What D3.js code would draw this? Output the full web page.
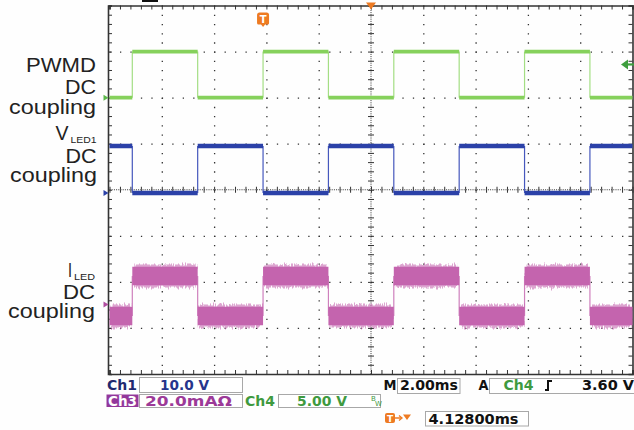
<!DOCTYPE html>
<html>
<head>
<meta charset="utf-8">
<script src="https://cdn.jsdelivr.net/npm/d3@7/dist/d3.min.js"></script>
<style>
    body { margin: 0; background: #fff; }
    svg { display: block; }
    .label { font-family: 'Liberation Sans', Arial, sans-serif; fill: #222; }
    .readout { font-family: 'DejaVu Sans', Verdana, sans-serif; font-weight: bold; font-size: 14px; }
    .box { fill: #fff; stroke: #a8a8a8; stroke-width: 1; }
</style>
</head>
<body>
<svg id="scope"></svg>
<script>
//SCOPE CAPTURE: PWMD, VLED1 AND ILED

//timebase and trigger settings (ms)
var timePerDiv = 2.0,
    triggerOffset = 4.128;

//edges of the square waves, ms from trigger
var edgeTimes = [-5, -2.5, 0, 2.5, 5, 7.5, 10, 12.5];

//levels between edges (first segment starts at left of screen)
var pwmdLevels = [0, 5, 0, 5, 0, 5, 0, 5, 0];                      // V  (Ch4)
var vledLevels = [10.2, 0, 10.2, 0, 10.2, 0, 10.2, 0, 10.2];       // V  (Ch1)
var iledLevels = [-5, 12.4, -5, 12.4, -5, 12.4, -5, 12.4, -5];     // mA (Ch3)

//channel settings: units per div, ground position in div
var channelNames = ['Ch4', 'Ch1', 'Ch3'],
    channelScales = [5, 10, 20],
    channelGrounds = [2, -0.07, -2.49];

//trigger level on Ch4 (V)
var triggerLevel = 3.6;

//left hand labels
var pwmdLabel = ['PWMD', 'DC', 'coupling'],
    vledLabel = ['V', 'LED1', 'DC', 'coupling'],
    iledLabel = ['I', 'LED', 'DC', 'coupling'];

//readout strings
var ch1Scale = '10.0 V',
    ch3Scale = '20.0mA\u03A9',
    ch4Scale = '5.00 V',
    timeScale = '2.00ms',
    trigSource = 'Ch4',
    trigLevelText = '3.60 V',
    trigPosText = '4.12800ms';

function scope() {
    //chart parameters
    var svg = d3.select('#scope')
        .attr('width', 634)
        .attr('height', 430);

    //screen extent
    var plot = {left: 109.5, right: 632.5, top: 5.5, bottom: 374};

    //define scales (x in ms from trigger, y in divisions)
    var xScale = d3.scaleLinear()
            .domain([triggerOffset - 5 * timePerDiv, triggerOffset + 5 * timePerDiv])
            .range([plot.left, plot.right]),
        yScale = d3.scaleLinear().domain([-4, 4]).range([plot.bottom, plot.top]);

    var t0 = xScale.domain()[0];
    var majorX = d3.range(0, 11).map(i => t0 + i * timePerDiv),
        minorX = d3.range(0, 51).map(i => t0 + i * timePerDiv / 5),
        majorY = d3.range(-4, 5),
        minorY = d3.range(-20, 21).map(i => i / 5);

    var defs = svg.append('defs');

    //clip to screen
    defs.append('clipPath').attr('id', 'screen')
        .append('rect')
        .attr('x', plot.left - 2).attr('y', plot.top)
        .attr('width', plot.right - plot.left + 4).attr('height', plot.bottom - plot.top);

    //noise look for the current trace
    var fuzz = defs.append('filter').attr('id', 'fuzz')
        .attr('filterUnits', 'userSpaceOnUse')
        .attr('x', 100).attr('y', 0).attr('width', 540).attr('height', 380);
    fuzz.append('feTurbulence')
        .attr('type', 'fractalNoise')
        .attr('baseFrequency', '0.9 0.05')
        .attr('numOctaves', 2)
        .attr('seed', 4)
        .attr('result', 'n');
    fuzz.append('feDisplacementMap')
        .attr('in', 'SourceGraphic')
        .attr('in2', 'n')
        .attr('scale', 8)
        .attr('xChannelSelector', 'A')
        .attr('yChannelSelector', 'R');

    //background
    svg.append('rect').attr('width', 634).attr('height', 430).attr('fill', '#fefefe');

    var grid = svg.append('g').attr('class', 'grid');
    var height = plot.bottom - plot.top,
        width = plot.right - plot.left;

    //vertical dotted gridlines
    grid.append('g')
        .attr('transform', 'translate(0,' + plot.top + ')')
        .call(d3.axisBottom(xScale)
            .tickValues(majorX.filter((d, i) => i > 0 && i < 10 && i != 5))
            .tickSize(height)
            .tickFormat(''))
        .call(g => g.select('.domain').remove())
        .selectAll('line')
            .attr('stroke', '#333')
            .attr('stroke-width', 1.3)
            .attr('stroke-dasharray', '1.3,' + (height / 40 - 1.3));

    //horizontal dotted gridlines
    grid.append('g')
        .attr('transform', 'translate(' + plot.left + ',0)')
        .call(d3.axisRight(yScale)
            .tickValues(majorY.filter(d => d != 0 && Math.abs(d) != 4))
            .tickSize(width)
            .tickFormat(''))
        .call(g => g.select('.domain').remove())
        .selectAll('line')
            .attr('stroke', '#333')
            .attr('stroke-width', 1.3)
            .attr('stroke-dasharray', '1.3,' + (width / 50 - 1.3));

    //centre lines, dense dots
    var cx = xScale(triggerOffset), cy = yScale(0);
    grid.append('line')
        .attr('x1', cx).attr('x2', cx).attr('y1', plot.top).attr('y2', plot.bottom)
        .attr('stroke', '#333').attr('stroke-dasharray', '1,1.2');
    grid.append('line')
        .attr('x1', plot.left).attr('x2', plot.right).attr('y1', cy).attr('y2', cy)
        .attr('stroke', '#333').attr('stroke-dasharray', '1,1.2');

    //centre cross ticks
    [3, -3].forEach(s => {
        grid.append('g')
            .attr('transform', 'translate(0,' + cy + ')')
            .call(d3.axisBottom(xScale).tickValues(minorX).tickSize(s).tickFormat(''))
            .call(g => g.select('.domain').remove());
        grid.append('g')
            .attr('transform', 'translate(' + cx + ',0)')
            .call(d3.axisLeft(yScale).tickValues(minorY).tickSize(s).tickFormat(''))
            .call(g => g.select('.domain').remove());
    });

    //frame with inward ticks
    var frame = svg.append('g').attr('class', 'frame');
    frame.append('g')
        .attr('transform', 'translate(0,' + plot.top + ')')
        .call(d3.axisTop(xScale).tickValues(minorX).tickSize(-4).tickFormat(''));
    frame.append('g')
        .attr('transform', 'translate(0,' + plot.bottom + ')')
        .call(d3.axisBottom(xScale).tickValues(minorX).tickSize(-4).tickFormat(''));
    frame.append('g')
        .attr('transform', 'translate(' + (plot.left - 1.5) + ',0)')
        .call(d3.axisLeft(yScale).tickValues(minorY).tickSize(-4).tickFormat(''));
    frame.append('g')
        .attr('transform', 'translate(' + plot.right + ',0)')
        .call(d3.axisRight(yScale).tickValues(minorY).tickSize(-4).tickFormat(''));
    frame.selectAll('.tick line').attr('stroke', '#333');
    frame.selectAll('.domain').attr('stroke', '#333').attr('stroke-width', 1.6);
    grid.selectAll('.tick line').filter(function() { return !this.getAttribute('stroke-dasharray'); })
        .attr('stroke', '#333');

    //traces
    var traces = svg.append('g').attr('clip-path', 'url(#screen)');

    function drawTrace(levels, ch, style) {
        var bounds = [xScale.domain()[0]].concat(edgeTimes, [xScale.domain()[1]]);
        var toY = v => yScale(channelGrounds[ch] + v / channelScales[ch]);
        var segs = levels.map((v, i) => ({a: bounds[i], b: bounds[i + 1], v: v}));
        var g = traces.append('g');

        //edges
        g.selectAll('.edge').data(edgeTimes)
            .enter().append('line')
                .attr('x1', d => xScale(d)).attr('x2', d => xScale(d))
                .attr('y1', (d, i) => toY(levels[i]))
                .attr('y2', (d, i) => toY(levels[i + 1]))
                .attr('stroke', style.edge)
                .attr('stroke-width', 1.2);

        //noisy halo
        if (style.halo) {
            g.append('g')
                .attr('filter', 'url(#fuzz)')
                .selectAll('line').data(segs)
                .enter().append('line')
                    .attr('x1', d => xScale(d.a) + 2).attr('x2', d => xScale(d.b) - 2)
                    .attr('y1', d => toY(d.v)).attr('y2', d => toY(d.v))
                    .attr('stroke', style.halo)
                    .attr('stroke-width', style.haloWidth);
        }

        //levels
        g.selectAll('.level').data(segs)
            .enter().append('line')
                .attr('x1', d => xScale(d.a)).attr('x2', d => xScale(d.b))
                .attr('y1', d => toY(d.v)).attr('y2', d => toY(d.v))
                .attr('stroke', style.color)
                .attr('stroke-width', style.width);
        return toY;
    }

    var ch4Y = drawTrace(pwmdLevels, 0, {color: '#86d15c', edge: '#a4de84', width: 3.8});
    var ch1Y = drawTrace(vledLevels, 1, {color: '#2b41a8', edge: '#4658bd', width: 4.4});
    var ch3Y = drawTrace(iledLevels, 2, {color: '#c464ae', edge: '#cf80bd', width: 18.5,
        halo: 'rgba(198,105,176,0.6)', haloWidth: 23});

    //ground markers on left edge
    var markers = [[ch4Y(0), '#5cb84a'], [ch1Y(0), '#2b41a8'], [ch3Y(0), '#b04da0']];
    svg.selectAll('.gnd').data(markers)
        .enter().append('path')
            .attr('d', d => 'M' + (plot.left - 6) + ',' + (d[0] - 3) + 'L' + (plot.left - 1) + ',' + d[0] + 'L' + (plot.left - 6) + ',' + (d[0] + 3) + 'Z')
            .attr('fill', d => d[1]);

    //trigger level arrow on right
    var ty = ch4Y(triggerLevel);
    svg.append('path')
        .attr('d', 'M621,' + ty + 'L628,' + (ty - 5) + 'L628,' + (ty + 5) + 'Z')
        .attr('fill', '#3e9e3e');
    svg.append('line')
        .attr('x1', 627).attr('x2', 634).attr('y1', ty).attr('y2', ty)
        .attr('stroke', '#3e9e3e').attr('stroke-width', 2.2);

    //trigger position marker
    var tx = xScale(0);
    svg.append('path')
        .attr('d', 'M' + (tx - 6) + ',15 q0,-2.5 2.5,-2.5 h7 q2.5,0 2.5,2.5 v8 q0,1.5 -1.5,1.5 h-2.5 l-2,2.5 l-2,-2.5 h-2.5 q-1.5,0 -1.5,-1.5 Z')
        .attr('fill', '#ee7b22');
    svg.append('text')
        .attr('x', tx).attr('y', 23)
        .attr('text-anchor', 'middle')
        .attr('font-family', 'DejaVu Sans').attr('font-weight', 'bold').attr('font-size', 10)
        .attr('fill', '#fff')
        .text('T');

    //expansion point marker
    svg.append('path')
        .attr('d', 'M' + (cx - 5) + ',2.5L' + (cx + 5) + ',2.5L' + cx + ',9.5Z')
        .attr('fill', '#ee7b22');

    //cut-off header remnant
    svg.append('rect').attr('x', 142).attr('y', 0).attr('width', 16).attr('height', 2).attr('fill', '#111');

    //left labels
    var labels = svg.append('g').attr('class', 'label');
    function label(txt, x, y, size, len) {
        labels.append('text')
            .attr('x', x).attr('y', y)
            .attr('text-anchor', 'end')
            .attr('font-size', size)
            .attr('textLength', len)
            .attr('lengthAdjust', 'spacingAndGlyphs')
            .text(txt);
    }
    label(pwmdLabel[0], 96, 72, 20, 70);
    label(pwmdLabel[1], 96, 93.5, 19.5, 31);
    label(pwmdLabel[2], 96, 114, 19.5, 87);

    label(vledLabel[0], 68.5, 140, 20, 13);
    label(vledLabel[1], 96.5, 143, 9.5, 26);
    label(vledLabel[2], 96.5, 162.5, 19.5, 31);
    label(vledLabel[3], 97, 181.5, 19.5, 87);

    label(iledLabel[0], 72, 276.5, 20, 4);
    label(iledLabel[1], 95, 279.5, 9.5, 21);
    label(iledLabel[2], 95, 299, 19.5, 32);
    label(iledLabel[3], 95, 317.5, 19.5, 87);

    //readout boxes
    var ro = svg.append('g');
    ro.append('rect').attr('class', 'box').attr('x', 139.5).attr('y', 377.5).attr('width', 103).attr('height', 15);
    ro.append('rect').attr('class', 'box').attr('x', 139.5).attr('y', 394.5).attr('width', 103).attr('height', 13);
    ro.append('rect').attr('class', 'box').attr('x', 278.5).attr('y', 394.5).attr('width', 102).attr('height', 13);
    ro.append('rect').attr('class', 'box').attr('x', 397.5).attr('y', 378.5).attr('width', 62.5).attr('height', 15);
    ro.append('rect').attr('class', 'box').attr('x', 489.5).attr('y', 378.5).attr('width', 150).attr('height', 15);
    ro.append('rect').attr('class', 'box').attr('x', 425.5).attr('y', 411.5).attr('width', 103).attr('height', 14.5);

    //Ch3 tag background
    ro.append('rect').attr('x', 106.5).attr('y', 394.5).attr('width', 32).attr('height', 12.5).attr('fill', '#93389b');

    function readout(txt, x, y, color, len) {
        ro.append('text')
            .attr('class', 'readout')
            .attr('x', x).attr('y', y)
            .attr('fill', color)
            .attr('textLength', len)
            .attr('lengthAdjust', 'spacingAndGlyphs')
            .text(txt);
    }
    readout('Ch1', 107, 389.5, '#1f2a70', 30);
    readout(ch1Scale, 160, 389.5, '#26358c', 49);
    readout('Ch3', 108, 405.5, '#ffffff', 29);
    readout(ch3Scale, 145, 405.5, '#9c3a98', 87);
    readout(channelNames[0], 245, 405.5, '#3f9a3f', 30);
    readout(ch4Scale, 297, 405.5, '#3f9a3f', 50);
    readout('M', 383.5, 390, '#111', 13);
    readout(timeScale, 400, 390, '#111', 58);
    readout('A', 478.5, 390, '#111', 10);
    readout(trigSource, 503.5, 390, '#3f9a3f', 30);
    readout(trigLevelText, 582, 390, '#111', 52);
    readout(trigPosText, 428.5, 423.5, '#111', 90);

    //bandwidth limit mark
    ro.append('text').attr('x', 371).attr('y', 401).attr('font-family', 'DejaVu Sans').attr('font-size', 7).attr('fill', '#3f9a3f').text('B');
    ro.append('text').attr('x', 375).attr('y', 405.5).attr('font-family', 'DejaVu Sans').attr('font-size', 7).attr('fill', '#3f9a3f').text('W');

    //trigger slope icon
    ro.append('path')
        .attr('d', 'M545,390 h3 v-9 h4')
        .attr('fill', 'none').attr('stroke', '#111').attr('stroke-width', 2);

    //trigger position readout icons
    ro.append('rect').attr('x', 385).attr('y', 413).attr('width', 10).attr('height', 10).attr('rx', 2).attr('fill', '#ee7b22');
    ro.append('text').attr('x', 390).attr('y', 421.5).attr('text-anchor', 'middle')
        .attr('font-family', 'DejaVu Sans').attr('font-weight', 'bold').attr('font-size', 9).attr('fill', '#fff').text('T');
    ro.append('path').attr('d', 'M395,418 h6').attr('stroke', '#ee7b22').attr('stroke-width', 1.5);
    ro.append('path').attr('d', 'M399,415.5 L402,418 L399,420.5').attr('fill', 'none').attr('stroke', '#ee7b22').attr('stroke-width', 1.3);
    ro.append('path').attr('d', 'M403,414.5 L411,414.5 L407,420Z').attr('fill', '#ee7b22');
};

scope();
</script>
</body>
</html>
